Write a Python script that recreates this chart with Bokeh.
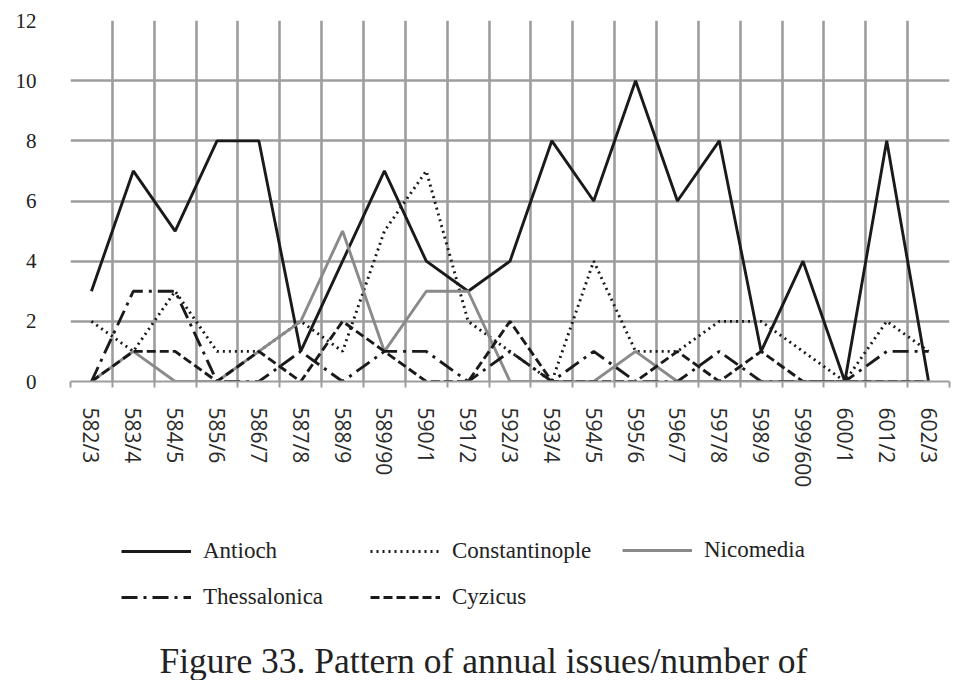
import numpy as np
from bokeh.plotting import figure
from bokeh.models import FixedTicker, Legend, LegendItem, Title
from bokeh.layouts import column
from bokeh.embed import file_html
from bokeh.resources import INLINE

categories = ["582/3", "583/4", "584/5", "585/6", "586/7", "587/8", "588/9",
              "589/90", "590/1", "591/2", "592/3", "593/4", "594/5", "595/6",
              "596/7", "597/8", "598/9", "599/600", "600/1", "601/2", "602/3"]
antioch =        [3, 7, 5, 8, 8, 1, 4, 7, 4, 3, 4, 8, 6, 10, 6, 8, 1, 4, 0, 8, 0]
constantinople = [2, 1, 3, 1, 1, 2, 1, 5, 7, 2, 1, 0, 4, 1, 1, 2, 2, 1, 0, 2, 1]
nicomedia =      [0, 1, 0, 0, 1, 2, 5, 1, 3, 3, 0, 0, 0, 1, 0, 0, 0, 0, 0, 0, 0]
thessalonica =   [0, 3, 3, 0, 0, 1, 0, 1, 1, 0, 1, 0, 1, 0, 0, 1, 0, 0, 0, 1, 1]
cyzicus =        [0, 1, 1, 0, 1, 0, 2, 1, 0, 0, 2, 0, 0, 0, 1, 0, 1, 0, 0, 0, 0]
y_ticks = [0, 2, 4, 6, 8, 10, 12]
title_text = "Figure 33. Pattern of annual issues/number of"

n = len(categories)
xs = list(range(n))
GRID = "#9d9d9d"
SERIF = "Liberation Serif"
INK = "#1a1a1a"

styles = {
    "Antioch": dict(line_color=INK, line_width=2.9),
    "Constantinople": dict(line_color=INK, line_width=2.9, line_dash="2 4"),
    "Nicomedia": dict(line_color="#8a8a8a", line_width=2.9),
    "Thessalonica": dict(line_color=INK, line_width=2.9, line_dash="16 6 3 6"),
    "Cyzicus": dict(line_color=INK, line_width=2.9, line_dash="9 4"),
}
series = {"Antioch": antioch, "Constantinople": constantinople, "Nicomedia": nicomedia,
          "Thessalonica": thessalonica, "Cyzicus": cyzicus}

# ---------------- main chart ----------------
p = figure(width=956, height=500, output_backend="svg", toolbar_location=None,
           x_range=(-0.5, n - 0.5), y_range=(0, 12),
           min_border_left=70, min_border_right=7, min_border_top=20,
           min_border_bottom=119)
p.outline_line_color = None

boundaries = [i - 0.5 for i in range(n + 1)]
p.xgrid.ticker = FixedTicker(ticks=boundaries)
p.xgrid.grid_line_color = GRID
p.xgrid.grid_line_width = 2.6
p.ygrid.ticker = FixedTicker(ticks=y_ticks)
p.ygrid.grid_line_color = GRID
p.ygrid.grid_line_width = 2.6

xa = p.xaxis[0]
xa.ticker = FixedTicker(ticks=xs, minor_ticks=boundaries)
xa.major_label_overrides = {i: c for i, c in enumerate(categories)}
xa.major_label_orientation = "vertical"
xa.major_tick_out = 0
xa.major_tick_in = 0
xa.minor_tick_out = 6
xa.minor_tick_in = 0
xa.minor_tick_line_color = GRID
xa.minor_tick_line_width = 2
xa.axis_line_color = GRID
xa.axis_line_width = 2
xa.major_label_standoff = 20
xa.major_label_text_font = "Open Sans"
xa.major_label_text_font_size = "21px"
xa.major_label_text_color = "#2a2a2a"

ya = p.yaxis[0]
ya.ticker = FixedTicker(ticks=y_ticks)
ya.axis_line_color = None
ya.major_tick_line_color = None
ya.minor_tick_line_color = None
ya.major_label_standoff = 28
ya.major_label_text_font = SERIF
ya.major_label_text_font_size = "21px"
ya.major_label_text_color = "#222222"

for name, vals in series.items():
    p.line(xs, vals, **styles[name])

# ---------------- legend + caption strip ----------------
q = figure(width=956, height=180, output_backend="svg", toolbar_location=None,
           x_axis_type=None, y_axis_type=None, x_range=(0, 1), y_range=(0, 1),
           min_border_left=0, min_border_right=0, min_border_top=0,
           min_border_bottom=0)
q.outline_line_color = None

# legend keys: same styles as the chart lines, holding a single undrawn (NaN) point
keys = {name: q.line(np.array([np.nan]), np.array([np.nan]), **styles[name])
        for name in series}

def make_legend(names, x, y):
    return Legend(items=[LegendItem(label=nm, renderers=[keys[nm]]) for nm in names],
                  orientation="vertical", location=(x, y),
                  glyph_width=70, glyph_height=22, label_standoff=12, spacing=20,
                  padding=0, margin=0, border_line_color=None, background_fill_alpha=0,
                  label_text_font=SERIF, label_text_font_size="23px",
                  label_text_color="#222222", label_height=22)

q.add_layout(make_legend(["Antioch", "Thessalonica"], 51, 28), "center")
q.add_layout(make_legend(["Constantinople", "Cyzicus"], 300, 28), "center")
q.add_layout(make_legend(["Nicomedia"], 552, 75), "center")

q.add_layout(Title(text=title_text, align="left", offset=89, text_font=SERIF,
                   text_font_size="35.5px", text_font_style="normal",
                   text_color="#222222", standoff=0), "below")

open("out.html", "w").write(file_html(column(p, q, spacing=0), INLINE))
